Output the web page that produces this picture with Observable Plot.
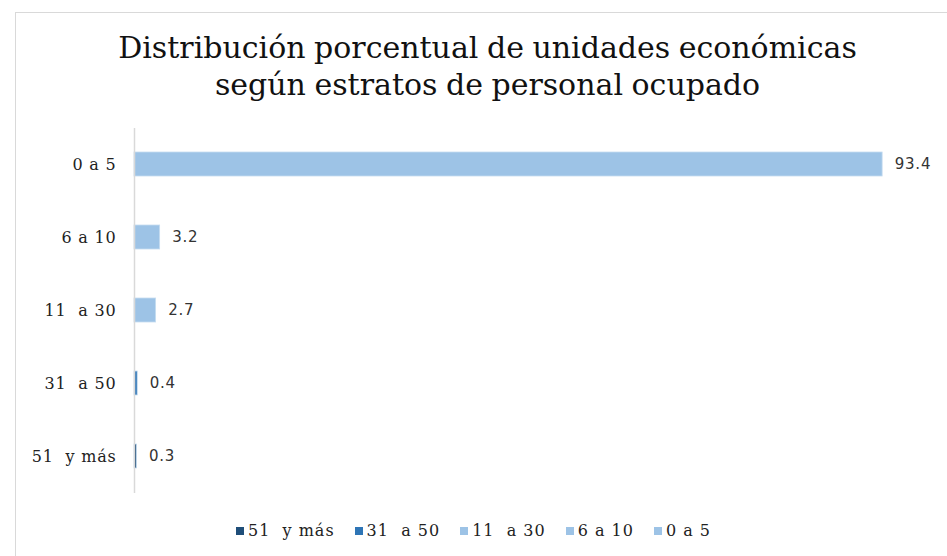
<!DOCTYPE html>
<html>
<head>
<meta charset="utf-8">
<script src="https://cdn.jsdelivr.net/npm/d3@7"></script>
<script src="https://cdn.jsdelivr.net/npm/@observablehq/plot@0.6"></script>
<style>
  html, body { margin: 0; padding: 0; background: #fff; width: 947px; height: 556px; overflow: hidden; }
  #frame { position: absolute; left: 15px; top: 12px; width: 960px; height: 600px; border-left: 1px solid #d9d9d9; border-top: 1px solid #d9d9d9; }
  #title { position: absolute; left: 0; top: 29px; width: 975px; text-align: center; font-family: "DejaVu Serif", serif; font-size: 30px; line-height: 37px; color: #111; letter-spacing: 0px; word-spacing: -1px; }
  #chart { position: absolute; left: 0; top: 0; }
  #chart svg text { white-space: pre; }
  #legend { position: absolute; left: 0; top: 521px; width: 947px; text-align: center; font-family: "DejaVu Serif", serif; font-size: 16px; letter-spacing: 1px; color: #222; }
  #legend span.item { margin: 0 10px; white-space: pre; }
  #legend span.sw { display: inline-block; width: 8px; height: 8px; margin-right: 4px; vertical-align: 1px; }
</style>
</head>
<body>
<div id="frame"></div>
<div id="title">Distribución porcentual de unidades económicas<br>según estratos de personal ocupado</div>
<div id="chart"></div>
<div id="legend"></div>
<script>
const categories = ["0 a 5", "6 a 10", "11  a 30", "31  a 50", "51  y más"];
const values = [93.4, 3.2, 2.7, 0.4, 0.3];
const legendOrder = ["51  y más", "31  a 50", "11  a 30", "6 a 10", "0 a 5"];
const palette = ["#9dc3e6", "#9dc3e6", "#9dc3e6", "#2e75b6", "#1f4e79"];

const data = categories.map((c, i) => ({category: c, value: values[i]}));

const plot = Plot.plot({
  width: 947,
  height: 520,
  marginLeft: 134,
  marginRight: 12,
  marginTop: 128,
  marginBottom: 27,
  x: {domain: [0, 100], axis: null},
  y: {domain: categories, paddingInner: 0.67, paddingOuter: 0.335, label: null, tickSize: 0, tickPadding: 18},
  color: {domain: categories, range: palette},
  style: {fontFamily: "DejaVu Serif, serif", fontSize: "16px", color: "#222", background: "transparent", letterSpacing: "0.8px"},
  marks: [
    Plot.barX(data, {x: "value", y: "category", fill: "category", stroke: "#c5dcf0", strokeWidth: 0.8}),
    Plot.text(data, {x: "value", y: "category", text: d => d.value.toFixed(1), dx: 12, textAnchor: "start", fontFamily: "DejaVu Sans, sans-serif", fontSize: 15, fill: "#333", style: "letter-spacing:2px"}),
    Plot.ruleX([0], {stroke: "#d9d9d9", strokeWidth: 1.5})
  ]
});
document.getElementById("chart").appendChild(plot);

const colorOf = c => palette[categories.indexOf(c)];
const legend = document.getElementById("legend");
legendOrder.forEach(c => {
  const item = document.createElement("span");
  item.className = "item";
  const sw = document.createElement("span");
  sw.className = "sw";
  sw.style.background = colorOf(c);
  item.appendChild(sw);
  item.appendChild(document.createTextNode(c));
  legend.appendChild(item);
});
</script>
</body>
</html>
